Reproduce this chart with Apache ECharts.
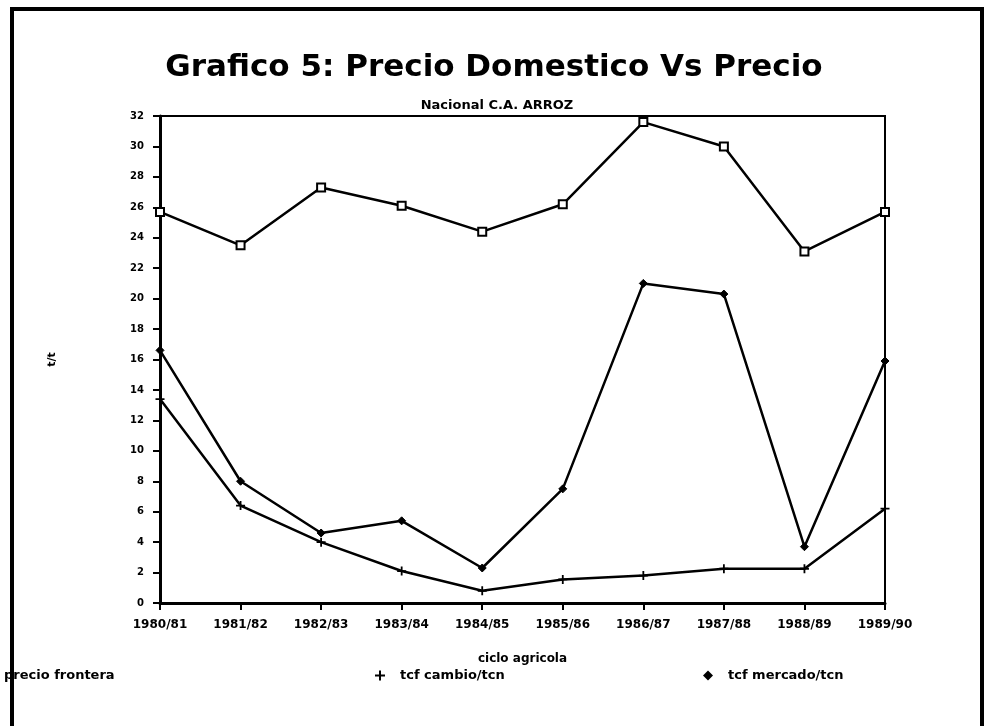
<!DOCTYPE html>
<html>
<head>
<meta charset="UTF-8">
<title>Grafico 5</title>
<style>
  body { margin: 0; background: #fff; }
  #chart { width: 988px; height: 726px; }
</style>
<script src="https://cdn.jsdelivr.net/npm/echarts@6.0.0/dist/echarts.min.js"></script>
</head>
<body>
<div id="chart"></div>
<script>
var ciclos = ['1980/81', '1981/82', '1982/83', '1983/84', '1984/85',
              '1985/86', '1986/87', '1987/88', '1988/89', '1989/90'];
var precioFrontera = [25.7, 23.5, 27.3, 26.1, 24.4, 26.2, 31.6, 30.0, 23.1, 25.7];
var tcfCambio = [13.4, 6.4, 4.0, 2.1, 0.8, 1.55, 1.8, 2.25, 2.25, 6.2];
var tcfMercado = [16.6, 8.0, 4.6, 5.4, 2.3, 7.5, 21.0, 20.3, 3.7, 15.9];

var font = 'DejaVu Sans';
var plus = 'path://M4,0 L6,0 L6,4 L10,4 L10,6 L6,6 L6,10 L4,10 L4,6 L0,6 L0,4 L4,4 Z';

var chart = echarts.init(document.getElementById('chart'));
var legendText = { fontFamily: font, fontWeight: 'bold', fontSize: 13, color: '#000', padding: [0, 0, 0, 10] };

chart.setOption({
  animation: false,
  backgroundColor: '#fff',
  graphic: [
    {
      type: 'rect',
      shape: { x: 12, y: 9, width: 970, height: 740 },
      style: { fill: 'none', stroke: '#000', lineWidth: 4 }
    }
  ],
  title: [
    {
      text: 'Grafico 5: Precio Domestico Vs Precio',
      left: 489, top: 47, textAlign: 'center',
      textStyle: { fontFamily: font, fontWeight: 'bold', fontSize: 31, color: '#000' }
    },
    {
      text: 'Nacional C.A. ARROZ',
      left: 492, top: 94, textAlign: 'center',
      textStyle: { fontFamily: font, fontWeight: 'bold', fontSize: 13, color: '#000' }
    }
  ],
  legend: [
    {
      data: [{ name: 'precio frontera', icon: 'rect' }],
      left: -26, top: 664, itemWidth: 9, itemHeight: 9,
      textStyle: legendText
    },
    {
      data: [{ name: 'tcf cambio/tcn', icon: plus }],
      left: 370, top: 664, itemWidth: 10, itemHeight: 10,
      textStyle: legendText
    },
    {
      data: [{ name: 'tcf mercado/tcn', icon: 'diamond' }],
      left: 698, top: 664, itemWidth: 10, itemHeight: 10,
      textStyle: legendText
    }
  ],
  grid: {
    left: 160, right: 103, top: 116, bottom: 123,
    show: true, borderColor: '#000', borderWidth: 2
  },
  xAxis: {
    type: 'category',
    data: ciclos,
    boundaryGap: false,
    name: 'ciclo agricola',
    nameLocation: 'middle',
    nameGap: 50,
    nameTextStyle: { fontFamily: font, fontWeight: 'bold', fontSize: 12, color: '#000' },
    axisLine: { lineStyle: { color: '#000', width: 3 } },
    axisTick: { alignWithLabel: true, length: 7, lineStyle: { color: '#000', width: 2 } },
    axisLabel: { fontFamily: font, fontWeight: 'bold', fontSize: 12, color: '#000', margin: 16 },
    splitLine: { show: false }
  },
  yAxis: {
    type: 'value',
    min: 0, max: 32, interval: 2,
    name: 't/t',
    nameLocation: 'middle',
    nameGap: 102,
    nameRotate: 90,
    nameTextStyle: { fontFamily: font, fontWeight: 'bold', fontSize: 11, color: '#000' },
    axisLine: { show: true, lineStyle: { color: '#000', width: 3 } },
    axisTick: { show: true, length: 7, lineStyle: { color: '#000', width: 2 } },
    axisLabel: { fontFamily: font, fontWeight: 'bold', fontSize: 10, color: '#000', margin: 16 },
    splitLine: { show: false }
  },
  series: [
    {
      name: 'precio frontera', type: 'line', data: precioFrontera,
      symbol: 'rect', symbolSize: 8,
      lineStyle: { color: '#000', width: 2.5 },
      itemStyle: { color: '#fff', borderColor: '#000', borderWidth: 2 }
    },
    {
      name: 'tcf cambio/tcn', type: 'line', data: tcfCambio,
      symbol: plus, symbolSize: 9,
      lineStyle: { color: '#000', width: 2.5 },
      itemStyle: { color: '#000', borderWidth: 0 }
    },
    {
      name: 'tcf mercado/tcn', type: 'line', data: tcfMercado,
      symbol: 'diamond', symbolSize: 8,
      lineStyle: { color: '#000', width: 2.5 },
      itemStyle: { color: '#000', borderColor: '#000' }
    }
  ]
});
</script>
</body>
</html>
